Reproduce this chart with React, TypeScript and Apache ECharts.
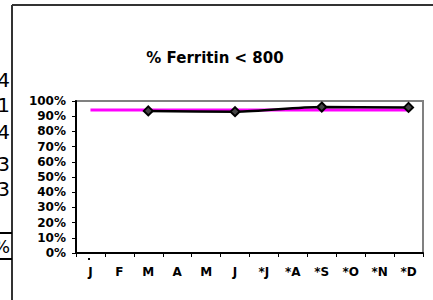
import React, { useEffect, useRef } from "react";
import * as echarts from "echarts";

const months = ["J", "F", "M", "A", "M", "J", "*J", "*A", "*S", "*O", "*N", "*D"];
const ferritinPct: (number | null)[] = [null, null, 0.935, null, null, 0.93, null, null, 0.96, null, null, 0.958];
const targetPct: number[] = [0.94, 0.94, 0.94, 0.94, 0.94, 0.94, 0.94, 0.94, 0.94, 0.94, 0.94, 0.94];
const leftCutTexts = ["4", "1", "4", "3", "3"];
const leftCutY = [80, 105, 132, 164, 189];

export default function App() {
  const ref = useRef<HTMLDivElement>(null);
  useEffect(() => {
    if (!ref.current) return;
    const chart = echarts.init(ref.current, undefined, { renderer: "svg" });
    const font = "DejaVu Sans";
    const graphics: any[] = [
      { type: "line", shape: { x1: 12, y1: 5, x2: 433, y2: 5 }, style: { stroke: "#333", lineWidth: 2 } },
      { type: "line", shape: { x1: 12, y1: 5, x2: 12, y2: 300 }, style: { stroke: "#333", lineWidth: 2 } },
      { type: "line", shape: { x1: 0, y1: 233, x2: 12, y2: 233 }, style: { stroke: "#000", lineWidth: 2 } },
      { type: "line", shape: { x1: 0, y1: 259, x2: 12, y2: 259 }, style: { stroke: "#000", lineWidth: 2 } },
      {
        type: "text",
        x: 10,
        y: 246,
        style: { text: "%", font: `18px ${font}`, fill: "#000", align: "right", verticalAlign: "middle" },
      },
      { type: "rect", shape: { x: 88, y: 258, width: 2, height: 2 }, style: { fill: "#000" } },
    ];
    leftCutTexts.forEach((t, i) => {
      graphics.push({
        type: "text",
        x: 10,
        y: leftCutY[i],
        style: { text: t, font: `20px ${font}`, fill: "#000", align: "right", verticalAlign: "middle" },
      });
    });
    chart.setOption({
      animation: false,
      title: {
        text: "% Ferritin < 800",
        left: 210,
        top: 45,
        textAlign: "center",
        textStyle: { fontFamily: font, fontWeight: "bold", fontSize: 15, color: "#000" },
      },
      grid: {
        left: 76,
        right: 10,
        top: 101,
        bottom: 47,
        show: true,
        borderColor: "#808080",
        borderWidth: 2,
        backgroundColor: "transparent",
      },
      xAxis: {
        type: "category",
        data: months,
        boundaryGap: true,
        axisLine: { lineStyle: { color: "#000", width: 2 } },
        axisTick: { show: true, length: 4, inside: false, lineStyle: { color: "#000" } },
        axisLabel: { fontFamily: font, fontWeight: "bold", fontSize: 12, color: "#000", margin: 13, interval: 0 },
        splitLine: { show: false },
      },
      yAxis: {
        type: "value",
        min: 0,
        max: 1,
        interval: 0.1,
        axisLine: { show: true, lineStyle: { color: "#000", width: 2 } },
        axisTick: { show: true, length: 4, lineStyle: { color: "#000" } },
        axisLabel: {
          fontFamily: font,
          fontWeight: "bold",
          fontSize: 12,
          color: "#000",
          margin: 10,
          formatter: (v: number) => `${Math.round(v * 100)}%`,
        },
        splitLine: { show: false },
      },
      series: [
        {
          name: "Target",
          type: "line",
          data: targetPct,
          symbol: "none",
          lineStyle: { color: "#FF00FF", width: 3 },
          z: 2,
        },
        {
          name: "% Ferritin < 800",
          type: "line",
          data: ferritinPct,
          connectNulls: true,
          smooth: 0.3,
          symbol: "diamond",
          symbolSize: 9,
          itemStyle: { color: "#444", borderColor: "#000", borderWidth: 2 },
          lineStyle: { color: "#000", width: 2.5 },
          z: 3,
        },
      ],
      graphic: graphics,
    });
    return () => chart.dispose();
  }, []);
  return <div ref={ref} style={{ position: "absolute", left: 0, top: 0, width: 433, height: 300 }} />;
}
